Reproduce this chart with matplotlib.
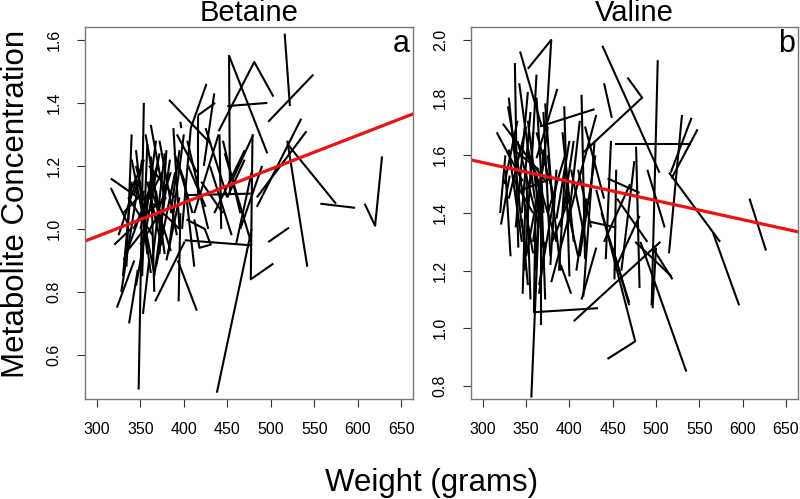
import matplotlib
matplotlib.use('Agg')
import matplotlib.pyplot as plt

plt.rcParams['font.family'] = ['Liberation Sans', 'DejaVu Sans']

# Betaine: each subject is one short trajectory (weight in g, concentration)
betaine_w = [
    [348, 354], [438, 478], [503, 477, 479], [516, 522], [549, 497],
    [453, 452, 496], [440, 481, 503], [450, 496], [535, 484], [541, 484],
    [519, 542], [519, 575], [557, 597], [608, 620, 628], [497, 521],
    [383, 431], [426, 408], [436, 416], [416, 416], [396, 397],
    [362, 378], [316, 347], [316, 335], [320, 339], [323, 343],
    [337, 347], [353, 360], [367, 401], [394, 396], [393, 415],
    [441, 443], [401, 477], [401, 477], [447, 477], [354, 343],
    [378, 364], [389, 401], [401, 412], [403, 424, 431, 418, 412],
    [331, 370], [340, 366], [345, 372], [358, 352], [360, 385],
    [370, 350], [375, 362], [380, 372], [385, 395], [330, 355],
    [343, 380], [365, 395], [350, 372], [368, 390], [392, 410],
    [405, 425], [420, 445], [430, 455], [450, 470], [460, 478],
    [355, 335], [338, 352], [325, 345],
    [328, 352], [334, 340], [345, 358], [352, 368], [356, 376],
    [362, 366], [366, 384], [372, 392], [382, 400], [388, 395],
    [398, 408], [404, 428], [412, 440], [425, 450], [435, 470],
    [445, 465], [455, 480], [465, 490], [340, 330], [350, 362],
    [358, 345], [368, 378], [374, 358], [385, 370], [395, 380],
    [342, 375], [360, 390], [336, 364], [392, 415], [423, 435],
]
betaine_c = [
    [0.49, 1.40], [0.48, 1.00], [0.89, 0.84, 1.30], [1.62, 1.39], [1.49, 1.34],
    [1.11, 1.55, 1.24], [1.31, 1.53, 1.42], [1.39, 1.40], [1.35, 1.07], [1.31, 1.10],
    [1.28, 0.88], [1.27, 1.08], [1.08, 1.067], [1.08, 1.01, 1.23], [0.958, 1.004],
    [1.41, 1.27], [1.46, 1.32], [1.40, 1.36], [1.36, 1.11], [1.34, 1.32],
    [1.33, 1.09], [1.16, 1.10], [1.13, 1.02], [0.95, 1.00], [0.75, 0.90],
    [0.70, 0.87], [0.73, 0.90], [0.77, 0.96], [0.77, 1.05], [0.90, 0.74],
    [1.30, 1.00], [1.107, 1.112], [0.964, 0.948], [1.24, 0.96], [1.22, 1.11],
    [1.24, 0.90], [1.24, 1.15], [1.15, 0.88], [1.03, 1.00, 0.95, 0.94, 1.03],
    [0.90, 1.20], [1.22, 0.86], [0.82, 1.24], [1.27, 0.85], [1.15, 0.93],
    [1.21, 1.00], [0.95, 1.23], [1.25, 0.92], [1.05, 1.25], [1.05, 1.12],
    [1.02, 1.10], [1.08, 1.00], [0.95, 1.05], [0.88, 1.18], [1.22, 1.05],
    [1.20, 1.07], [1.15, 1.05], [1.20, 0.98], [1.10, 1.22], [0.95, 1.18],
    [1.00, 0.93], [1.12, 1.20], [0.98, 1.15],
    [0.80, 1.22], [0.88, 1.30], [1.25, 0.92], [0.95, 1.28], [1.30, 0.98],
    [1.20, 0.80], [0.85, 1.22], [1.28, 0.98], [0.92, 1.30], [1.32, 1.00],
    [1.00, 1.32], [1.28, 1.00], [1.05, 1.30], [1.32, 1.10], [1.05, 1.25],
    [1.28, 1.05], [1.15, 1.30], [1.00, 1.20], [1.15, 0.85], [1.10, 0.86],
    [1.05, 1.20], [1.12, 0.92], [0.95, 1.15], [1.18, 1.05], [1.10, 0.90],
    [1.00, 1.18], [1.20, 1.10], [1.10, 0.98], [1.30, 1.18], [1.20, 1.43],
]

# Valine trajectories
valine_w = [
    [356, 367], [361, 359, 433], [367, 367], [352, 379, 373], [337, 339],
    [343, 368], [438, 504], [440, 449], [467, 484, 416], [502, 495],
    [453, 540], [530, 515], [541, 517], [548, 518], [515, 574],
    [566, 596], [608, 627], [476, 518], [431, 476, 444], [405, 505],
    [496, 500], [519, 496], [482, 535], [346, 349], [414, 431],
    [469, 450], [316, 346], [321, 331], [323, 375], [329, 358],
    [386, 362], [366, 429], [394, 400], [414, 418], [431, 379],
    [429, 416], [448, 442], [454, 452], [444, 481], [477, 481],
    [423, 454], [437, 469], [481, 452], [330, 350], [340, 365],
    [350, 372], [355, 345], [360, 385], [370, 360], [375, 395],
    [385, 378], [395, 410], [405, 390], [345, 330], [362, 380],
    [335, 358], [368, 352], [380, 400], [410, 425], [345, 352],
    [372, 365], [390, 402], [420, 408], [326, 320], [338, 341],
    [330, 345], [338, 352], [342, 360], [348, 358], [352, 370],
    [355, 362], [358, 375], [362, 370], [365, 385], [370, 378],
    [375, 390], [380, 372], [388, 395], [392, 405], [398, 412],
    [402, 420], [412, 430], [418, 440], [335, 365], [345, 380],
    [325, 340], [332, 326], [350, 355], [372, 368], [385, 400],
    [440, 470], [455, 490], [460, 475], [490, 510],
]
valine_c = [
    [0.76, 1.55], [1.45, 1.056, 1.07], [1.01, 1.47], [1.90, 2.00, 1.70], [1.92, 1.56],
    [1.96, 1.70], [1.98, 1.54], [1.85, 1.73], [1.87, 1.80, 1.61], [1.93, 1.08],
    [1.64, 1.64], [1.74, 1.26], [1.73, 1.54], [1.69, 1.52], [1.54, 1.30],
    [1.33, 1.08], [1.45, 1.27], [1.30, 1.18], [1.48, 0.955, 0.894], [1.025, 1.30],
    [1.07, 1.28], [1.17, 1.28], [1.30, 0.85], [1.12, 1.43], [1.10, 1.28],
    [1.08, 1.28], [1.68, 1.51], [1.36, 1.53], [1.71, 1.50], [1.77, 1.26],
    [1.83, 1.59], [1.70, 1.76], [1.77, 1.18], [1.81, 1.24], [1.74, 1.16],
    [1.65, 1.11], [1.65, 1.24], [1.55, 1.17], [1.52, 1.47], [1.63, 1.14],
    [1.37, 1.35], [1.40, 1.09], [1.39, 1.20], [1.45, 1.70], [1.65, 1.35],
    [1.25, 1.60], [1.75, 1.40], [1.55, 1.30], [1.62, 1.20], [1.40, 1.60],
    [1.55, 1.22], [1.45, 1.25], [1.65, 1.35], [1.30, 1.62], [1.68, 1.48],
    [1.52, 1.40], [1.45, 1.62], [1.30, 1.45], [1.55, 1.35], [1.38, 1.15],
    [1.30, 1.12], [1.22, 1.12], [1.45, 1.20], [1.60, 1.40], [1.58, 1.28],
    [1.80, 1.35], [1.35, 1.82], [1.85, 1.45], [1.20, 1.68], [1.72, 1.28],
    [1.50, 1.88], [1.30, 1.70], [1.80, 1.40], [1.15, 1.50], [1.75, 1.25],
    [1.60, 1.20], [1.45, 1.78], [1.20, 1.55], [1.68, 1.30], [1.35, 1.72],
    [1.55, 1.28], [1.25, 1.60], [1.70, 1.45], [1.62, 1.55], [1.48, 1.52],
    [1.50, 1.72], [1.25, 1.55], [1.55, 1.10], [1.10, 1.45], [1.38, 1.65],
    [1.30, 1.50], [1.45, 1.30], [1.20, 1.58], [1.55, 1.35],
]

# fitted population lines (intercept, slope)
betaine_fit = (0.655, 0.00107)
valine_fit = (1.773, -0.00066)

x_ticks = [300, 350, 400, 450, 500, 550, 600, 650]
xlim = (286, 664)

panels = [
    dict(title='Betaine', tag='a', w=betaine_w, c=betaine_c, fit=betaine_fit,
         ylim=(0.459, 1.642), yticks=[0.6, 0.8, 1.0, 1.2, 1.4, 1.6],
         rect=[0.1059, 0.1998, 0.4108, 0.7467]),
    dict(title='Valine', tag='b', w=valine_w, c=valine_c, fit=valine_fit,
         ylim=(0.754, 2.046), yticks=[0.8, 1.0, 1.2, 1.4, 1.6, 1.8, 2.0],
         rect=[0.5884, 0.1998, 0.4091, 0.7467]),
]

fig = plt.figure(figsize=(8, 4.99), dpi=100)

for p in panels:
    ax = fig.add_axes(p['rect'])
    for ws, cs in zip(p['w'], p['c']):
        ax.plot(ws, cs, color='black', linewidth=1.5, solid_capstyle='butt')
    b0, b1 = p['fit']
    ax.plot(xlim, [b0 + b1 * xlim[0], b0 + b1 * xlim[1]], color='#ee1111', linewidth=2.3)

    ax.set_xlim(xlim)
    ax.set_ylim(p['ylim'])
    ax.set_xticks(x_ticks)
    ax.set_yticks(p['yticks'])
    ax.set_yticklabels([f'{v:.1f}' for v in p['yticks']], rotation=90, va='center')
    ax.tick_params(direction='out', length=5.5, width=0.8, color='#333333',
                   labelsize=11.5, pad=11)
    for s in ax.spines.values():
        s.set_color('#777777')
        s.set_linewidth(1.0)
    ax.set_title(p['title'], fontsize=21, pad=3.5)
    ax.text(0.99, 0.932, p['tag'], transform=ax.transAxes, ha='right',
            va='baseline', fontsize=22)

fig.text(0.001, 0.592, 'Metabolite Concentration', rotation=90, ha='left',
         va='center', fontsize=22.5)
fig.text(0.539, 0.016, 'Weight (grams)', ha='center', va='baseline', fontsize=22.5)

fig.savefig('out.png', dpi=100)
